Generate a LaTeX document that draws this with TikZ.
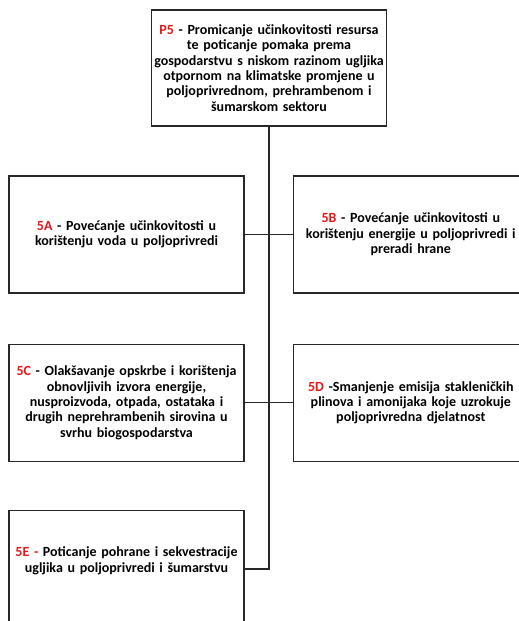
\documentclass[tikz,border=0pt]{standalone}
\usepackage{fontspec}
\setmainfont{Carlito}
\usepackage{xcolor}
\usepackage{tikz}
\usetikzlibrary{positioning}
\definecolor{tagred}{RGB}{232,22,22}
\definecolor{linegray}{RGB}{40,40,40}

\begin{document}
\begin{tikzpicture}[
        x=1pt, y=1pt,
        box/.style={rectangle, draw=linegray, line width=1.3pt, inner xsep=0pt, minimum width=235pt, minimum height=117pt, text width=235pt, align=center, font=\fontsize{14}{15.4}\selectfont\bfseries},
        conn/.style={draw=linegray, line width=1.3pt}
    ]
    \useasboundingbox (0,0) rectangle (519,-621);
    \clip (0,0) rectangle (519,-621);

    \node[box, minimum height=116pt] (p5) at (269,-68) {\textcolor{tagred}{P5} - Promicanje učinkovitosti resursa\\ te poticanje pomaka prema\\ gospodarstvu s niskom razinom ugljika\\ otpornom na klimatske promjene u\\ poljoprivrednom, prehrambenom i\\ šumarskom sektoru};
    \node[box] (a5) at (126.5,-234.5) {\textcolor{tagred}{5A} - Povećanje učinkovitosti u\\ korištenju voda u poljoprivredi};
    \node[box, right=48pt of a5] (b5) {\textcolor{tagred}{5B} - Povećanje učinkovitosti u\\ korištenju energije u poljoprivredi i\\ preradi hrane};
    \node[box, below=50pt of a5] (c5) {\textcolor{tagred}{5C} - Olakšavanje opskrbe i korištenja\\ obnovljivih izvora energije,\\ nusproizvoda, otpada, ostataka i\\ drugih neprehrambenih sirovina u\\ svrhu biogospodarstva};
    \node[box, right=48pt of c5] (d5) {\textcolor{tagred}{5D} -Smanjenje emisija stakleničkih\\ plinova i amonijaka koje uzrokuje\\ poljoprivredna djelatnost};
    \node[box, below=48pt of c5] (e5) {\textcolor{tagred}{5E -} Poticanje pohrane i sekvestracije\\ ugljika u poljoprivredi i šumarstvu\\ \rule{0pt}{16pt}};

    \draw[conn] (p5.south) |- (e5.east);
    \draw[conn] (a5.east) -- (b5.west);
    \draw[conn] (c5.east) -- (d5.west);

\end{tikzpicture}
\end{document}
